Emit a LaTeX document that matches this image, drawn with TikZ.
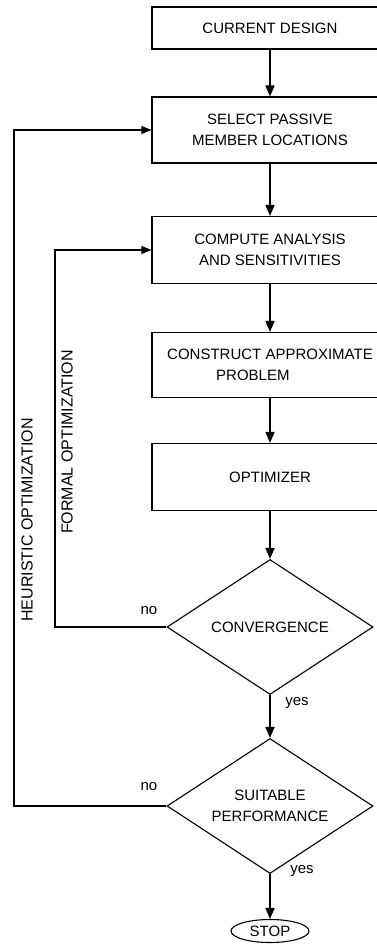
\documentclass[tikz,border=0pt]{standalone}
\usepackage{fontspec}
\setmainfont{Liberation Sans}
\usetikzlibrary{shapes.geometric}
\usetikzlibrary{arrows.meta}

\begin{document}
\begin{tikzpicture}[x=1pt,y=-1pt,
  font=\fontsize{15}{21}\selectfont,
  box/.style={draw,line width=1.1pt,minimum width=236pt,inner sep=0pt,align=center},
  test/.style={draw,diamond,line width=1.1pt,minimum width=206pt,minimum height=135pt,inner sep=0pt,aspect=1.5,align=center},
  flow/.style={line width=1.6pt,-{Triangle[length=11pt,width=9pt]}},
  back/.style={line width=1.1pt,-{Triangle[length=10pt,width=8pt]}},
  lbl/.style={inner sep=0pt}]
  \useasboundingbox (0,0) rectangle (377,947);
  \clip (0,0) rectangle (377,947);

  % main column
  \node[box,minimum height=42pt] (cur) at (270,28) {CURRENT DESIGN};
  \node[box,minimum height=66pt] (sel) at (270,130) {SELECT PASSIVE\\MEMBER LOCATIONS};
  \node[box,minimum height=67pt] (ana) at (270,250) {COMPUTE ANALYSIS\\AND SENSITIVITIES};
  \node[box,minimum height=65pt,align=left] (apx) at (270,365) {CONSTRUCT APPROXIMATE\\\hspace*{49pt}PROBLEM};
  \node[box,minimum height=67pt] (opt) at (270,477) {OPTIMIZER};
  \node[test] (conv) at (270,627) {CONVERGENCE};
  \node[test] (perf) at (270,806) {SUITABLE\\PERFORMANCE};
  \node[draw,ellipse,line width=1.1pt,minimum width=78pt,minimum height=23pt,inner sep=0pt] (stop) at (270,931) {STOP};

  \draw[flow] (cur) -- (sel);
  \draw[flow] (sel) -- (ana);
  \draw[flow] (ana) -- (apx);
  \draw[flow] (apx) -- (opt);
  \draw[flow] (opt) -- (conv);
  \draw[flow] (conv) -- (perf);
  \draw[flow] (perf) -- (stop);

  % loops back
  \coordinate (fx) at (55,627);
  \coordinate (hx) at (14,806);
  \draw[back] (conv.west) -- (fx) |- (ana.west);
  \draw[back] (perf.west) -- (hx) |- (sel.west);

  \node[lbl] (no1) at (149,611) {no};
  \node[lbl] (yes1) at (297,703) {yes};
  \node[lbl] (no2) at (149,787) {no};
  \node[lbl] (yes2) at (302,871) {yes};
  \node[lbl,rotate=90,font=\fontsize{16}{19}\selectfont] (heu) at (27,520) {HEURISTIC OPTIMIZATION};
  \node[lbl,rotate=90,font=\fontsize{16}{19}\selectfont] (frm) at (67,442) {FORMAL OPTIMIZATION};
\end{tikzpicture}
\end{document}
